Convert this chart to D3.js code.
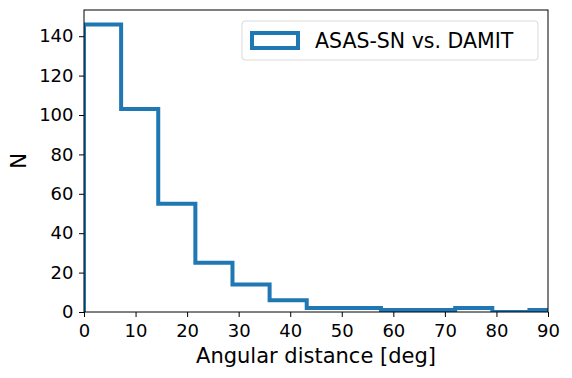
<!DOCTYPE html>
<html>
<head>
    <title>Angular distance histogram</title>
    <script src="https://cdnjs.cloudflare.com/ajax/libs/d3/7.6.1/d3.min.js"></script>
    <style>
        html, body {
            margin: 0;
            padding: 0;
            background: #fff;
        }
        svg {
            display: block;
        }
    </style>
</head>
<body>
    <div id="chart"></div>
    <script>
        // histogram bins (deg), width 7.2
        const binEdges = [0, 7.2, 14.4, 21.6, 28.8, 36, 43.2, 50.4, 57.6, 64.8, 72, 79.2, 86.4, 93.6];
        const counts = [146, 103, 55, 25, 14, 6, 2, 2, 1, 1, 2, 0, 1];
        const xTicks = [0, 10, 20, 30, 40, 50, 60, 70, 80, 90];
        const yTicks = [0, 20, 40, 60, 80, 100, 120, 140];
        const seriesName = 'ASAS-SN vs. DAMIT';

        const width = 572, height = 378;
        const margin = { left: 84, right: 24, top: 10, bottom: 66 };
        const plotW = width - margin.left - margin.right;
        const plotH = height - margin.top - margin.bottom;
        const font = "'DejaVu Sans', sans-serif";

        const svg = d3.select('#chart')
            .append('svg')
            .attr('width', width)
            .attr('height', height);

        const x = d3.scaleLinear().domain([0, 90]).range([0, plotW]);
        const y = d3.scaleLinear().domain([0, 153.3]).range([plotH, 0]);

        const g = svg.append('g')
            .attr('transform', `translate(${margin.left},${margin.top})`);

        g.append('clipPath')
            .attr('id', 'clip')
            .append('rect')
            .attr('width', plotW)
            .attr('height', plotH);

        // step outline, like histtype='step'
        const pts = [[binEdges[0], 0]];
        counts.forEach((c, i) => {
            pts.push([binEdges[i], c]);
            pts.push([binEdges[i + 1], c]);
        });
        pts.push([binEdges[binEdges.length - 1], 0]);

        g.append('path')
            .datum(pts)
            .attr('clip-path', 'url(#clip)')
            .attr('fill', 'none')
            .attr('stroke', '#1f77b4')
            .attr('stroke-width', 4)
            .attr('stroke-linejoin', 'miter')
            .attr('d', d3.line().x(d => x(d[0])).y(d => y(d[1])));

        const xAxis = g.append('g')
            .attr('transform', `translate(0,${plotH})`)
            .call(d3.axisBottom(x).tickValues(xTicks).tickSize(5).tickPadding(7).tickFormat(d3.format('d')));

        const yAxis = g.append('g')
            .call(d3.axisLeft(y).tickValues(yTicks).tickSize(5).tickPadding(5.5).tickFormat(d3.format('d')));

        [xAxis, yAxis].forEach(a => {
            a.select('.domain').remove();
            a.selectAll('.tick line').attr('stroke', '#000').attr('stroke-width', 1);
            a.selectAll('.tick text')
                .style('font-family', font)
                .style('font-size', '18px')
                .attr('fill', '#000');
        });

        // frame
        g.append('rect')
            .attr('width', plotW)
            .attr('height', plotH)
            .attr('fill', 'none')
            .attr('stroke', '#000')
            .attr('stroke-width', 1);

        svg.append('text')
            .attr('x', margin.left + plotW / 2)
            .attr('y', 363)
            .attr('text-anchor', 'middle')
            .style('font-family', font)
            .style('font-size', '21px')
            .text('Angular distance [deg]');

        svg.append('text')
            .attr('transform', `translate(26,${margin.top + plotH / 2}) rotate(-90)`)
            .attr('text-anchor', 'middle')
            .style('font-family', font)
            .style('font-size', '21px')
            .text('N');

        // legend
        const leg = g.append('g').attr('transform', 'translate(158,11)');
        leg.append('rect')
            .attr('width', 296)
            .attr('height', 39)
            .attr('rx', 3)
            .attr('fill', '#fff')
            .attr('fill-opacity', 0.8)
            .attr('stroke', '#d9d9d9');
        leg.append('rect')
            .attr('x', 10)
            .attr('y', 12)
            .attr('width', 46)
            .attr('height', 15)
            .attr('fill', 'none')
            .attr('stroke', '#1f77b4')
            .attr('stroke-width', 4);
        leg.append('text')
            .attr('x', 73)
            .attr('y', 27)
            .style('font-family', font)
            .style('font-size', '20.5px')
            .text(seriesName);
    </script>
</body>
</html>
